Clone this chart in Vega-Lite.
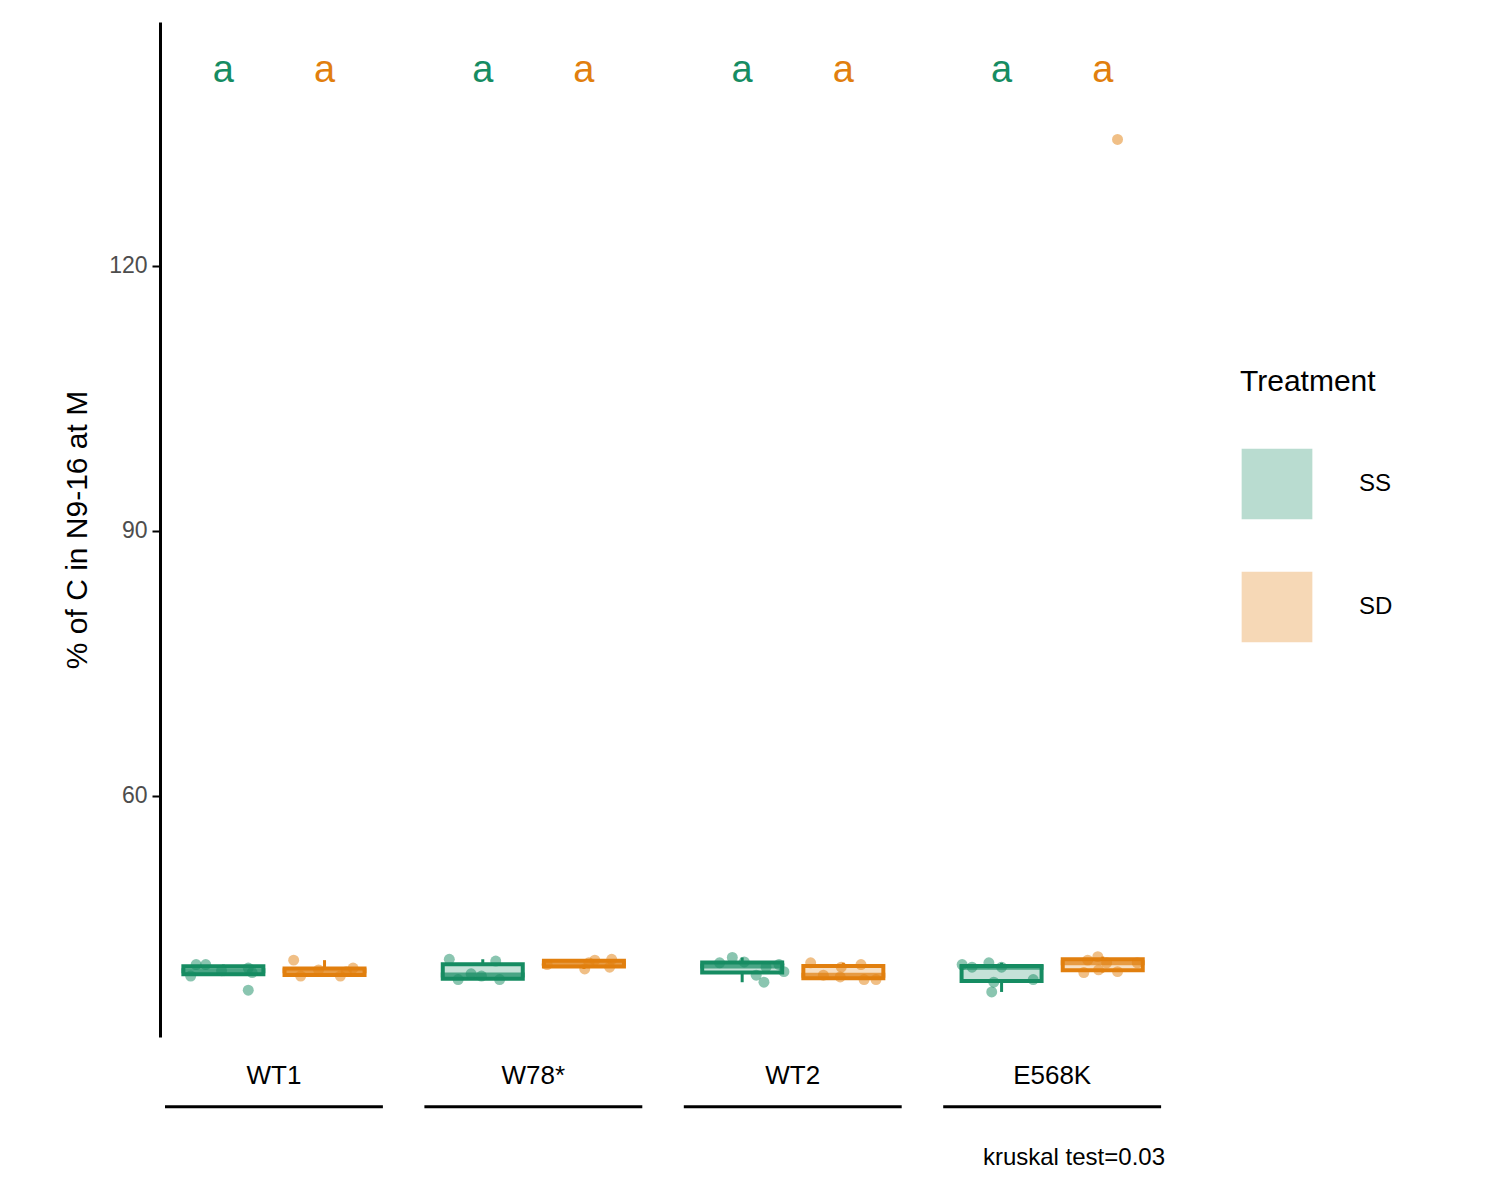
{
"$schema":"https://vega.github.io/schema/vega-lite/v6.json",
"width":1010,"height":1015,
"autosize":{"type":"none"},
"padding":{"left":160,"top":22,"right":330,"bottom":163},
"background":"white",
"config":{"view":{"stroke":null},"font":"Liberation Sans"},
"resolve":{"scale":{"color":"shared"}},
"datasets":{
"pts":[
{"g":"WT1","t":"SS","pos":0.805,"xj":0.700,"y":40.9},{"g":"WT1","t":"SS","pos":0.805,"xj":0.737,"y":40.9},{"g":"WT1","t":"SS","pos":0.805,"xj":0.679,"y":39.6},{"g":"WT1","t":"SS","pos":0.805,"xj":0.798,"y":40.2},{"g":"WT1","t":"SS","pos":0.805,"xj":0.901,"y":40.5},{"g":"WT1","t":"SS","pos":0.805,"xj":0.916,"y":40.0},{"g":"WT1","t":"SS","pos":0.805,"xj":0.901,"y":38.0},
{"g":"WT1","t":"SD","pos":1.195,"xj":1.076,"y":41.4},{"g":"WT1","t":"SD","pos":1.195,"xj":1.103,"y":39.6},{"g":"WT1","t":"SD","pos":1.195,"xj":1.172,"y":40.3},{"g":"WT1","t":"SD","pos":1.195,"xj":1.256,"y":39.6},{"g":"WT1","t":"SD","pos":1.195,"xj":1.279,"y":40.1},{"g":"WT1","t":"SD","pos":1.195,"xj":1.305,"y":40.5},
{"g":"W78*","t":"SS","pos":1.805,"xj":1.676,"y":41.5},{"g":"W78*","t":"SS","pos":1.805,"xj":1.710,"y":39.2},{"g":"W78*","t":"SS","pos":1.805,"xj":1.855,"y":41.3},{"g":"W78*","t":"SS","pos":1.805,"xj":1.870,"y":39.2},{"g":"W78*","t":"SS","pos":1.805,"xj":1.760,"y":39.85},{"g":"W78*","t":"SS","pos":1.805,"xj":1.800,"y":39.6},
{"g":"W78*","t":"SD","pos":2.195,"xj":2.053,"y":40.9},{"g":"W78*","t":"SD","pos":2.195,"xj":2.198,"y":40.4},{"g":"W78*","t":"SD","pos":2.195,"xj":2.237,"y":41.4},{"g":"W78*","t":"SD","pos":2.195,"xj":2.302,"y":41.5},{"g":"W78*","t":"SD","pos":2.195,"xj":2.294,"y":40.6},{"g":"W78*","t":"SD","pos":2.195,"xj":2.214,"y":41.1},
{"g":"WT2","t":"SS","pos":2.805,"xj":2.718,"y":41.1},{"g":"WT2","t":"SS","pos":2.805,"xj":2.767,"y":41.7},{"g":"WT2","t":"SS","pos":2.805,"xj":2.813,"y":41.2},{"g":"WT2","t":"SS","pos":2.805,"xj":2.859,"y":39.7},{"g":"WT2","t":"SS","pos":2.805,"xj":2.889,"y":38.9},{"g":"WT2","t":"SS","pos":2.805,"xj":2.897,"y":40.6},{"g":"WT2","t":"SS","pos":2.805,"xj":2.947,"y":40.9},{"g":"WT2","t":"SS","pos":2.805,"xj":2.966,"y":40.1},
{"g":"WT2","t":"SD","pos":3.195,"xj":3.069,"y":41.1},{"g":"WT2","t":"SD","pos":3.195,"xj":3.118,"y":39.7},{"g":"WT2","t":"SD","pos":3.195,"xj":3.187,"y":40.6},{"g":"WT2","t":"SD","pos":3.195,"xj":3.183,"y":39.5},{"g":"WT2","t":"SD","pos":3.195,"xj":3.263,"y":40.9},{"g":"WT2","t":"SD","pos":3.195,"xj":3.275,"y":39.2},{"g":"WT2","t":"SD","pos":3.195,"xj":3.321,"y":39.2},
{"g":"E568K","t":"SS","pos":3.805,"xj":3.653,"y":40.9},{"g":"E568K","t":"SS","pos":3.805,"xj":3.691,"y":40.6},{"g":"E568K","t":"SS","pos":3.805,"xj":3.756,"y":41.1},{"g":"E568K","t":"SS","pos":3.805,"xj":3.805,"y":40.6},{"g":"E568K","t":"SS","pos":3.805,"xj":3.775,"y":38.9},{"g":"E568K","t":"SS","pos":3.805,"xj":3.767,"y":37.8},{"g":"E568K","t":"SS","pos":3.805,"xj":3.927,"y":39.2},
{"g":"E568K","t":"SD","pos":4.195,"xj":4.137,"y":41.4},{"g":"E568K","t":"SD","pos":4.195,"xj":4.176,"y":41.8},{"g":"E568K","t":"SD","pos":4.195,"xj":4.122,"y":40.0},{"g":"E568K","t":"SD","pos":4.195,"xj":4.179,"y":40.3},{"g":"E568K","t":"SD","pos":4.195,"xj":4.252,"y":40.1},{"g":"E568K","t":"SD","pos":4.195,"xj":4.328,"y":41.1},{"g":"E568K","t":"SD","pos":4.195,"xj":4.210,"y":41.1},{"g":"E568K","t":"SD","pos":4.195,"xj":4.252,"y":134.3}
],
"letters":[
{"t":"SS","x":0.805,"y":142,"l":"a"},{"t":"SD","x":1.195,"y":142,"l":"a"},
{"t":"SS","x":1.805,"y":142,"l":"a"},{"t":"SD","x":2.195,"y":142,"l":"a"},
{"t":"SS","x":2.805,"y":142,"l":"a"},{"t":"SD","x":3.195,"y":142,"l":"a"},
{"t":"SS","x":3.805,"y":142,"l":"a"},{"t":"SD","x":4.195,"y":142,"l":"a"}],
"groups":[
{"g":"WT1","x":1,"x1":0.58,"x2":1.42,"ly":28.3,"ry":24.8},
{"g":"W78*","x":2,"x1":1.58,"x2":2.42,"ly":28.3,"ry":24.8},
{"g":"WT2","x":3,"x1":2.58,"x2":3.42,"ly":28.3,"ry":24.8},
{"g":"E568K","x":4,"x1":3.58,"x2":4.42,"ly":28.3,"ry":24.8}],
"note":[{"x":4.435,"y":19.0,"l":"kruskal test=0.03"}]
},
"encoding":{
 "x":{"type":"quantitative","scale":{"domain":[0.58,4.435],"nice":false,"zero":false},"axis":null},
 "y":{"type":"quantitative","scale":{"domain":[32.7,147.6],"nice":false,"zero":false},
   "axis":{"values":[60,90,120],"grid":false,"domainColor":"black","domainWidth":3,"tickColor":"black","tickWidth":2,"tickSize":8,"labelFontSize":23,"labelColor":"#4d4d4d","labelPadding":5,"title":"% of C in N9-16 at M","titleFontSize":30,"titleFontWeight":"normal","titleColor":"black","titlePadding":16}}
},
"layer":[
{"data":{"name":"pts"},"transform":[{"filter":"datum.t==='SS'"}],
 "mark":{"type":"boxplot","orient":"vertical","size":80,"outliers":false,"color":"#168C62",
  "box":{"fill":"#168C62","fillOpacity":0.25,"stroke":"#168C62","strokeWidth":4},
  "median":{"stroke":"#168C62","strokeWidth":4},"rule":{"stroke":"#168C62","strokeWidth":3},"ticks":false},
 "encoding":{"x":{"field":"pos","type":"quantitative","title":null},
  "y":{"field":"y","type":"quantitative","title":"% of C in N9-16 at M"}}},
{"data":{"name":"pts"},"transform":[{"filter":"datum.t==='SD'"}],
 "mark":{"type":"boxplot","orient":"vertical","size":80,"outliers":false,"color":"#E17F0E",
  "box":{"fill":"#E17F0E","fillOpacity":0.25,"stroke":"#E17F0E","strokeWidth":4},
  "median":{"stroke":"#E17F0E","strokeWidth":4},"rule":{"stroke":"#E17F0E","strokeWidth":3},"ticks":false},
 "encoding":{"x":{"field":"pos","type":"quantitative","title":null},
  "y":{"field":"y","type":"quantitative","title":"% of C in N9-16 at M"}}},
{"data":{"name":"pts"},
 "mark":{"type":"circle","size":120,"opacity":0.5},
 "encoding":{"x":{"field":"xj","type":"quantitative","title":null},
  "y":{"field":"y","type":"quantitative","title":"% of C in N9-16 at M"},
  "color":{"field":"t","type":"nominal","scale":{"domain":["SS","SD"],"range":["#168C62","#E17F0E"]},
   "legend":{"title":"Treatment","orient":"none","legendX":1080,"legendY":345,"titleFontSize":30,"titleFontWeight":"normal","titleColor":"black","labelFontSize":24,"labelColor":"black","symbolType":"square","symbolSize":5000,"symbolOpacity":0.3,"symbolStrokeWidth":3,"rowPadding":50,"labelOffset":45,"titlePadding":50}}}},
{"data":{"name":"letters"},
 "mark":{"type":"text","fontSize":38,"baseline":"middle"},
 "encoding":{"x":{"field":"x","type":"quantitative"},"y":{"field":"y","type":"quantitative"},"text":{"field":"l"},
  "color":{"field":"t","type":"nominal","legend":null}}},
{"data":{"name":"groups"},
 "mark":{"type":"text","fontSize":26,"baseline":"middle","color":"black"},
 "encoding":{"x":{"field":"x","type":"quantitative"},"y":{"field":"ly","type":"quantitative"},"text":{"field":"g"}}},
{"data":{"name":"groups"},
 "mark":{"type":"rule","strokeWidth":3,"color":"black"},
 "encoding":{"x":{"field":"x1","type":"quantitative"},"x2":{"field":"x2"},"y":{"field":"ry","type":"quantitative"}}},
{"data":{"name":"note"},
 "mark":{"type":"text","fontSize":24,"align":"right","baseline":"middle","color":"black"},
 "encoding":{"x":{"field":"x","type":"quantitative"},"y":{"field":"y","type":"quantitative"},"text":{"field":"l"}}}
]
}
